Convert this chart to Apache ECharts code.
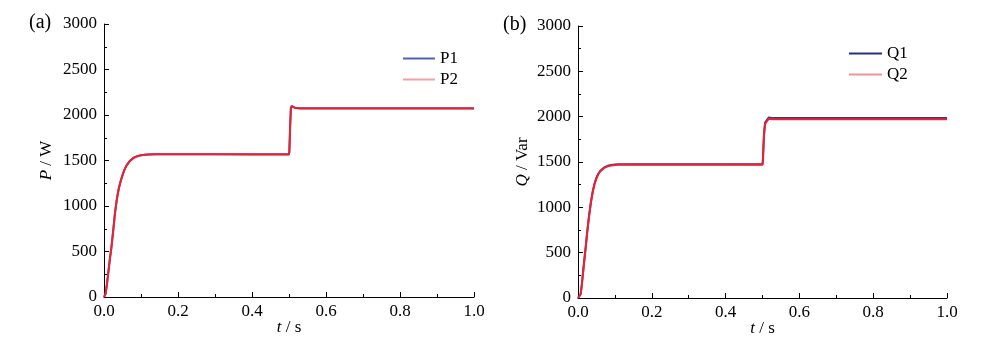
<!DOCTYPE html>
<html>
<head>
<meta charset="utf-8">
<script src="https://cdn.jsdelivr.net/npm/echarts@6/dist/echarts.min.js"></script>
<style>html,body{margin:0;padding:0;background:#fff}#c{width:1000px;height:338px}</style>
</head>
<body>
<div id="c"></div>
<script>
// ---- data ----
var xTicks = [0, 0.2, 0.4, 0.6, 0.8, 1.0];
var yTicks = [0, 500, 1000, 1500, 2000, 2500, 3000];

var tP = [0, 0.004, 0.008, 0.012, 0.016, 0.02, 0.025, 0.03, 0.035, 0.04, 0.045, 0.05, 0.055, 0.06, 0.07, 0.08, 0.09, 0.1, 0.11, 0.12, 0.14, 0.16, 0.2, 0.3, 0.4, 0.5, 0.501, 0.503, 0.505, 0.507, 0.509, 0.512, 0.516, 0.52, 0.53, 0.6, 0.7, 0.8, 0.9, 1.0];
var p1 = [0, 32, 145, 285, 425, 548, 738, 935, 1085, 1195, 1275, 1340, 1397, 1440, 1496, 1530, 1548, 1558, 1564, 1567, 1569, 1569, 1569, 1569, 1568, 1568, 1610, 1870, 2075, 2100, 2088, 2090, 2080, 2076, 2074, 2074, 2074, 2074, 2074, 2074];
var p2 = [0, 30, 140, 280, 420, 540, 730, 930, 1080, 1190, 1272, 1337, 1395, 1438, 1495, 1529, 1547, 1557, 1563, 1566, 1568, 1568, 1568, 1568, 1567, 1567, 1600, 1850, 2060, 2095, 2085, 2088, 2078, 2074, 2072, 2072, 2072, 2072, 2072, 2072];

var tQ = [0, 0.004, 0.007, 0.01, 0.013, 0.016, 0.02, 0.025, 0.03, 0.035, 0.04, 0.045, 0.05, 0.055, 0.06, 0.07, 0.08, 0.09, 0.1, 0.11, 0.12, 0.14, 0.2, 0.3, 0.4, 0.5, 0.501, 0.504, 0.507, 0.512, 0.517, 0.52, 0.53, 0.6, 0.7, 0.8, 0.9, 1.0];
var q1 = [0, 6, 42, 135, 258, 380, 530, 732, 912, 1060, 1178, 1266, 1327, 1371, 1401, 1438, 1458, 1468, 1473, 1475, 1476, 1476, 1476, 1476, 1475, 1475, 1520, 1810, 1935, 1950, 1992, 1994, 1984, 1984, 1984, 1984, 1984, 1984];
var q2 = [0, 5, 40, 130, 250, 370, 520, 720, 900, 1050, 1170, 1260, 1320, 1365, 1395, 1432, 1452, 1462, 1467, 1469, 1470, 1470, 1470, 1470, 1469, 1469, 1505, 1790, 1920, 1938, 1978, 1982, 1972, 1972, 1972, 1972, 1972, 1972];

var seriesNames = ['P1', 'P2', 'Q1', 'Q2'];

function pairs(t, v) { return t.map(function (x, i) { return [x, v[i]]; }); }

var FONT = '"Liberation Serif", "Times New Roman", serif';
var col = { P1: '#3553b5', P2: '#f0202c', Q1: '#2c3a9a', Q2: '#f0202c' };
var legCol = { P1: '#4f63b3', P2: '#f4a0a4', Q1: '#26307f', Q2: '#f29296' };

function xAxis(gi) {
  return {
    type: 'value', gridIndex: gi, min: xTicks[0], max: xTicks[xTicks.length - 1], interval: xTicks[1] - xTicks[0],
    axisLine: { show: true, onZero: false, lineStyle: { color: '#000', width: 1 } },
    axisTick: { show: true, inside: true, length: 5, lineStyle: { color: '#000' } },
    minorTick: { show: true, splitNumber: 2, length: 3, lineStyle: { color: '#000' } },
    splitLine: { show: false },
    axisLabel: { color: '#000', fontFamily: FONT, fontSize: 17, margin: 6,
      formatter: function (v) { return v.toFixed(1); } },
    name: '{i|t} / s', nameLocation: 'middle', nameGap: 22, nameMoveOverlap: false,
    nameTextStyle: { color: '#000', fontFamily: FONT, fontSize: 17,
      rich: { i: { fontStyle: 'italic', fontFamily: FONT, fontSize: 17, color: '#000' } } }
  };
}
function yAxis(gi, nm, gap) {
  return {
    type: 'value', gridIndex: gi, min: yTicks[0], max: yTicks[yTicks.length - 1], interval: yTicks[1] - yTicks[0],
    axisLine: { show: true, lineStyle: { color: '#000', width: 1 } },
    axisTick: { show: true, inside: true, length: 5, lineStyle: { color: '#000' } },
    minorTick: { show: true, splitNumber: 2, length: 3, lineStyle: { color: '#000' } },
    splitLine: { show: false },
    axisLabel: { color: '#000', fontFamily: FONT, fontSize: 17, margin: 7,
      formatter: function (v) { return String(v); } },
    name: nm, nameLocation: 'middle', nameGap: gap, nameRotate: 90, nameMoveOverlap: false,
    nameTextStyle: { color: '#000', fontFamily: FONT, fontSize: 17,
      rich: { i: { fontStyle: 'italic', fontFamily: FONT, fontSize: 17, color: '#000' } } }
  };
}
function line(name, t, v, xi) {
  return {
    name: name, type: 'line', xAxisIndex: xi, yAxisIndex: xi,
    data: pairs(t, v), showSymbol: false, symbol: 'none', smooth: false,
    lineStyle: { color: col[name], width: 2 }, itemStyle: { color: col[name] },
    animation: false
  };
}
var legText = { color: '#000', fontFamily: FONT, fontSize: 17 };

var chart = echarts.init(document.getElementById('c'), null, { renderer: 'canvas' });
chart.setOption({
  backgroundColor: '#fff',
  animation: false,
  grid: [
    { left: 104, right: 526, top: 24, bottom: 41, containLabel: false, outerBoundsMode: 'none' },
    { left: 578, right: 53, top: 26, bottom: 40, containLabel: false, outerBoundsMode: 'none' }
  ],
  xAxis: [xAxis(0), xAxis(1)],
  yAxis: [yAxis(0, '{i|P} / W', 49), yAxis(1, '{i|Q} / Var', 47)],
  legend: [
    { orient: 'vertical', left: 403, top: 50, padding: 0, itemWidth: 32, itemHeight: 2, itemGap: 4, icon: 'rect',
      textStyle: legText,
      data: [{ name: 'P1', itemStyle: { color: legCol.P1 } }, { name: 'P2', itemStyle: { color: legCol.P2 } }] },
    { orient: 'vertical', left: 849, top: 45, padding: 0, itemWidth: 33, itemHeight: 2, itemGap: 4, icon: 'rect',
      textStyle: legText,
      data: [{ name: 'Q1', itemStyle: { color: legCol.Q1 } }, { name: 'Q2', itemStyle: { color: legCol.Q2 } }] }
  ],
  graphic: [
    { type: 'text', left: 29, top: 13, style: { text: '(a)', font: '20px "Liberation Serif"', fill: '#000' } },
    { type: 'text', left: 503, top: 15, style: { text: '(b)', font: '20px "Liberation Serif"', fill: '#000' } }
  ],
  series: [
    line('P1', tP, p1, 0), line('P2', tP, p2, 0),
    line('Q1', tQ, q1, 1), line('Q2', tQ, q2, 1)
  ]
});
</script>
</body>
</html>
